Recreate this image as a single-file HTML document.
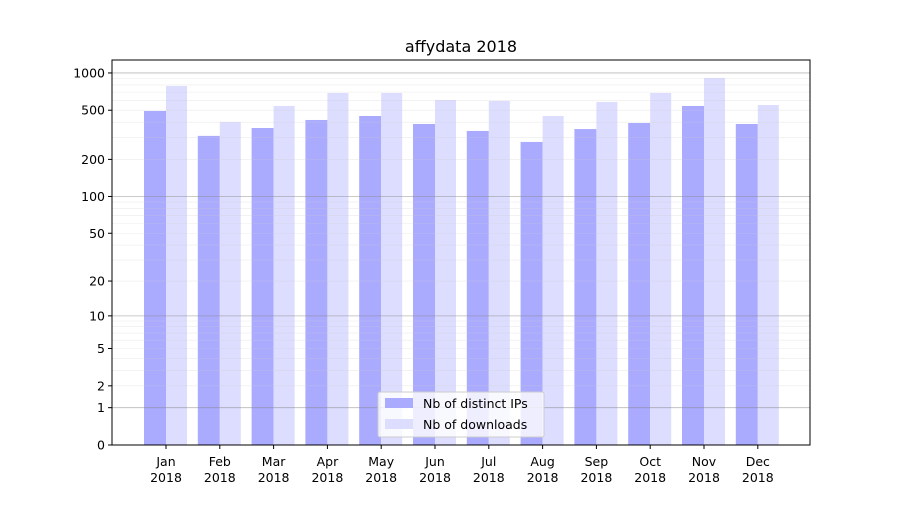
<!DOCTYPE html>
<html><head><meta charset="utf-8"><style>
body{margin:0;background:#fff;font-family:"Liberation Sans","DejaVu Sans",sans-serif;}
svg text{font-family:"DejaVu Sans","Liberation Sans",sans-serif;}
</style></head><body>
<svg id="chart" width="900" height="500">
<rect width="900" height="500" fill="#fff"/>
<text x="461" y="52" text-anchor="middle" font-size="16">affydata 2018</text>
<g id="bars"></g><g id="grid"></g><g id="axes"></g>
<g>
<rect x="378" y="392" width="166" height="45" fill="#fff" fill-opacity="0.8" stroke="#ccc" rx="2"/>
<rect x="385" y="398" width="28" height="10" fill="#aaaaff"/>
<text x="423" y="408" font-size="12.5">Nb of distinct IPs</text>
<rect x="385" y="419" width="28" height="10" fill="#ddddff"/>
<text x="423" y="429" font-size="12.5">Nb of downloads</text>
</g>
</svg>
<script>
const categories=["Jan","Feb","Mar","Apr","May","Jun","Jul","Aug","Sep","Oct","Nov","Dec"];
const ips=[493,310,359,417,449,387,340,277,352,394,541,387];
const downloads=[785,402,541,689,689,605,594,449,583,689,911,551];
const yTicks=[0,1,2,5,10,20,50,100,200,500,1000];
const NS="http://www.w3.org/2000/svg";
const x0=112,x1=810,yBase=445,yTop=60;
const y=v=>yBase-124*Math.log10(1+v);
const cx=i=>166+i*53.8;
function mk(tag,attrs,parent){const e=document.createElementNS(NS,tag);for(const k in attrs)e.setAttribute(k,attrs[k]);parent.appendChild(e);return e;}
const grid=document.getElementById('grid'),bars=document.getElementById('bars'),axes=document.getElementById('axes');
[1,10,100,1000].forEach(d=>{for(let m=1;m<10;m++){const v=d*m;if(y(v)<yTop)break;
const l=mk('line',{x1:x0,x2:x1,y1:y(v),y2:y(v),stroke:m==1?'#888':'#ccc','stroke-opacity':m==1?0.6:0.4,'stroke-width':m==1?0.8:0.6},grid);

}});
categories.forEach((c,i)=>{
const b=mk('rect',{x:cx(i)-22,y:y(ips[i]),width:22,height:yBase-y(ips[i]),fill:'#aaaaff'},bars);


const d=mk('rect',{x:cx(i),y:y(downloads[i]),width:21,height:yBase-y(downloads[i]),fill:'#ddddff'},bars);


mk('line',{x1:cx(i),x2:cx(i),y1:yBase,y2:yBase+4,stroke:'#000'},axes);
const t=mk('text',{x:cx(i),y:466,'text-anchor':'middle','font-size':12.5},axes);t.textContent=c;


const t2=mk('text',{x:cx(i),y:482,'text-anchor':'middle','font-size':12.5},axes);t2.textContent='2018';


});
yTicks.forEach(v=>{mk('line',{x1:x0-4,x2:x0,y1:y(v),y2:y(v),stroke:'#000'},axes);
const t=mk('text',{x:x0-7,y:y(v)+4.5,'text-anchor':'end','font-size':12.5},axes);t.textContent=v;

});
const f=mk('rect',{x:x0,y:yTop,width:x1-x0,height:yBase-yTop,fill:'none',stroke:'#000','stroke-width':1},axes);


</script>
</body></html>
